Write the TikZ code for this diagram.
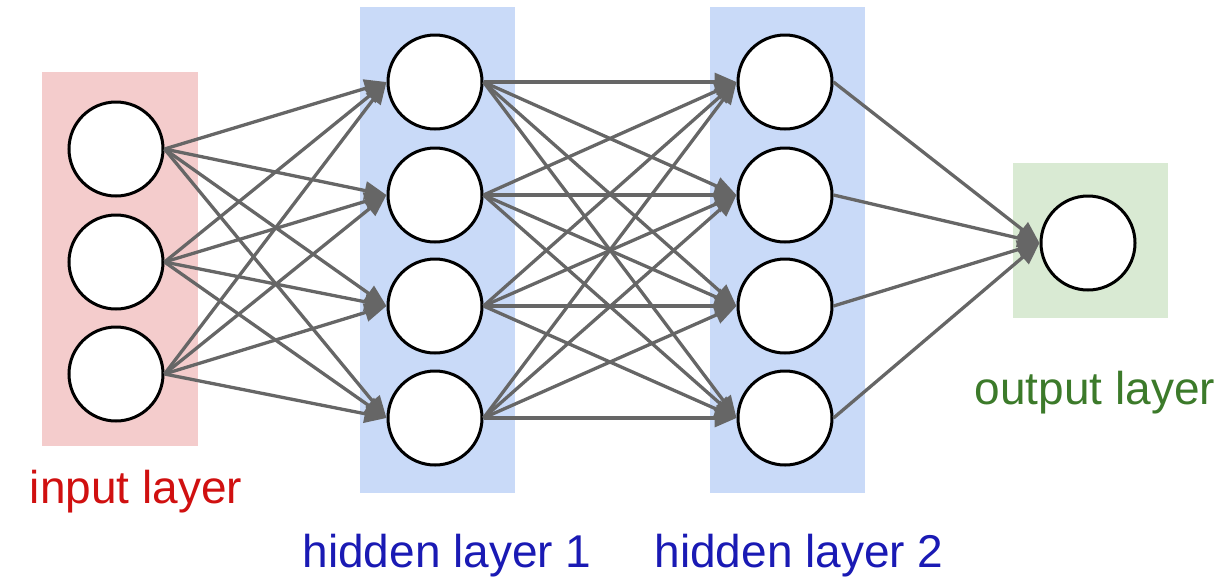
\documentclass[tikz,border=0pt]{standalone}
\usepackage{fontspec}
\setmainfont{Liberation Sans}
\usetikzlibrary{arrows.meta}
\definecolor{inbg}{HTML}{F4CCCC}
\definecolor{hidbg}{HTML}{C9DAF8}
\definecolor{outbg}{HTML}{D9EAD3}
\definecolor{intext}{HTML}{D01010}
\definecolor{hidtext}{HTML}{1A1AB4}
\definecolor{outtext}{HTML}{3C7A2A}
\definecolor{edgegray}{HTML}{666666}
\tikzset{
  neuron/.style={circle,draw=black,line width=3pt,fill=white,inner sep=0pt,minimum size=94pt},
  conn/.style={draw=edgegray,line width=3.3pt,-{Triangle[length=22pt,width=18pt]}},
  lbl/.style={font=\fontsize{46}{54}\selectfont,inner sep=0pt,anchor=base}
}
\begin{document}
\begin{tikzpicture}[x=1pt,y=-1pt]
\useasboundingbox (0,0) rectangle (1228,582);
% layer backgrounds
\fill[inbg] (42,72) rectangle (198,446);
\fill[hidbg] (360,7) rectangle (515,493);
\fill[hidbg] (710,7) rectangle (865,493);
\fill[outbg] (1013,163) rectangle (1168,318);
% neurons
\foreach \i/\y in {1/149,2/262,3/374} \node[neuron] (i\i) at (116,\y) {};
\foreach \i/\y in {1/82,2/195,3/306,4/418} {
  \node[neuron] (a\i) at (435,\y) {};
  \node[neuron] (b\i) at (785,\y) {};
}
\node[neuron] (o) at (1088,243) {};
% connections
\foreach \s in {1,2,3} \foreach \t in {1,2,3,4} \draw[conn] (i\s.east) -- (a\t.west);
\foreach \s in {1,2,3,4} \foreach \t in {1,2,3,4} \draw[conn] (a\s.east) -- (b\t.west);
\foreach \s in {1,2,3,4} \draw[conn] (b\s.east) -- (o.west);
% labels
\node[lbl,text=intext] (lin) at (136,503) {input layer};
\node[lbl,text=hidtext] (lh1) at (447,567) {hidden layer 1};
\node[lbl,text=hidtext] (lh2) at (799,567) {hidden layer 2};
\node[lbl,text=outtext] (lout) at (1095,404) {output layer};
\end{tikzpicture}
\end{document}
